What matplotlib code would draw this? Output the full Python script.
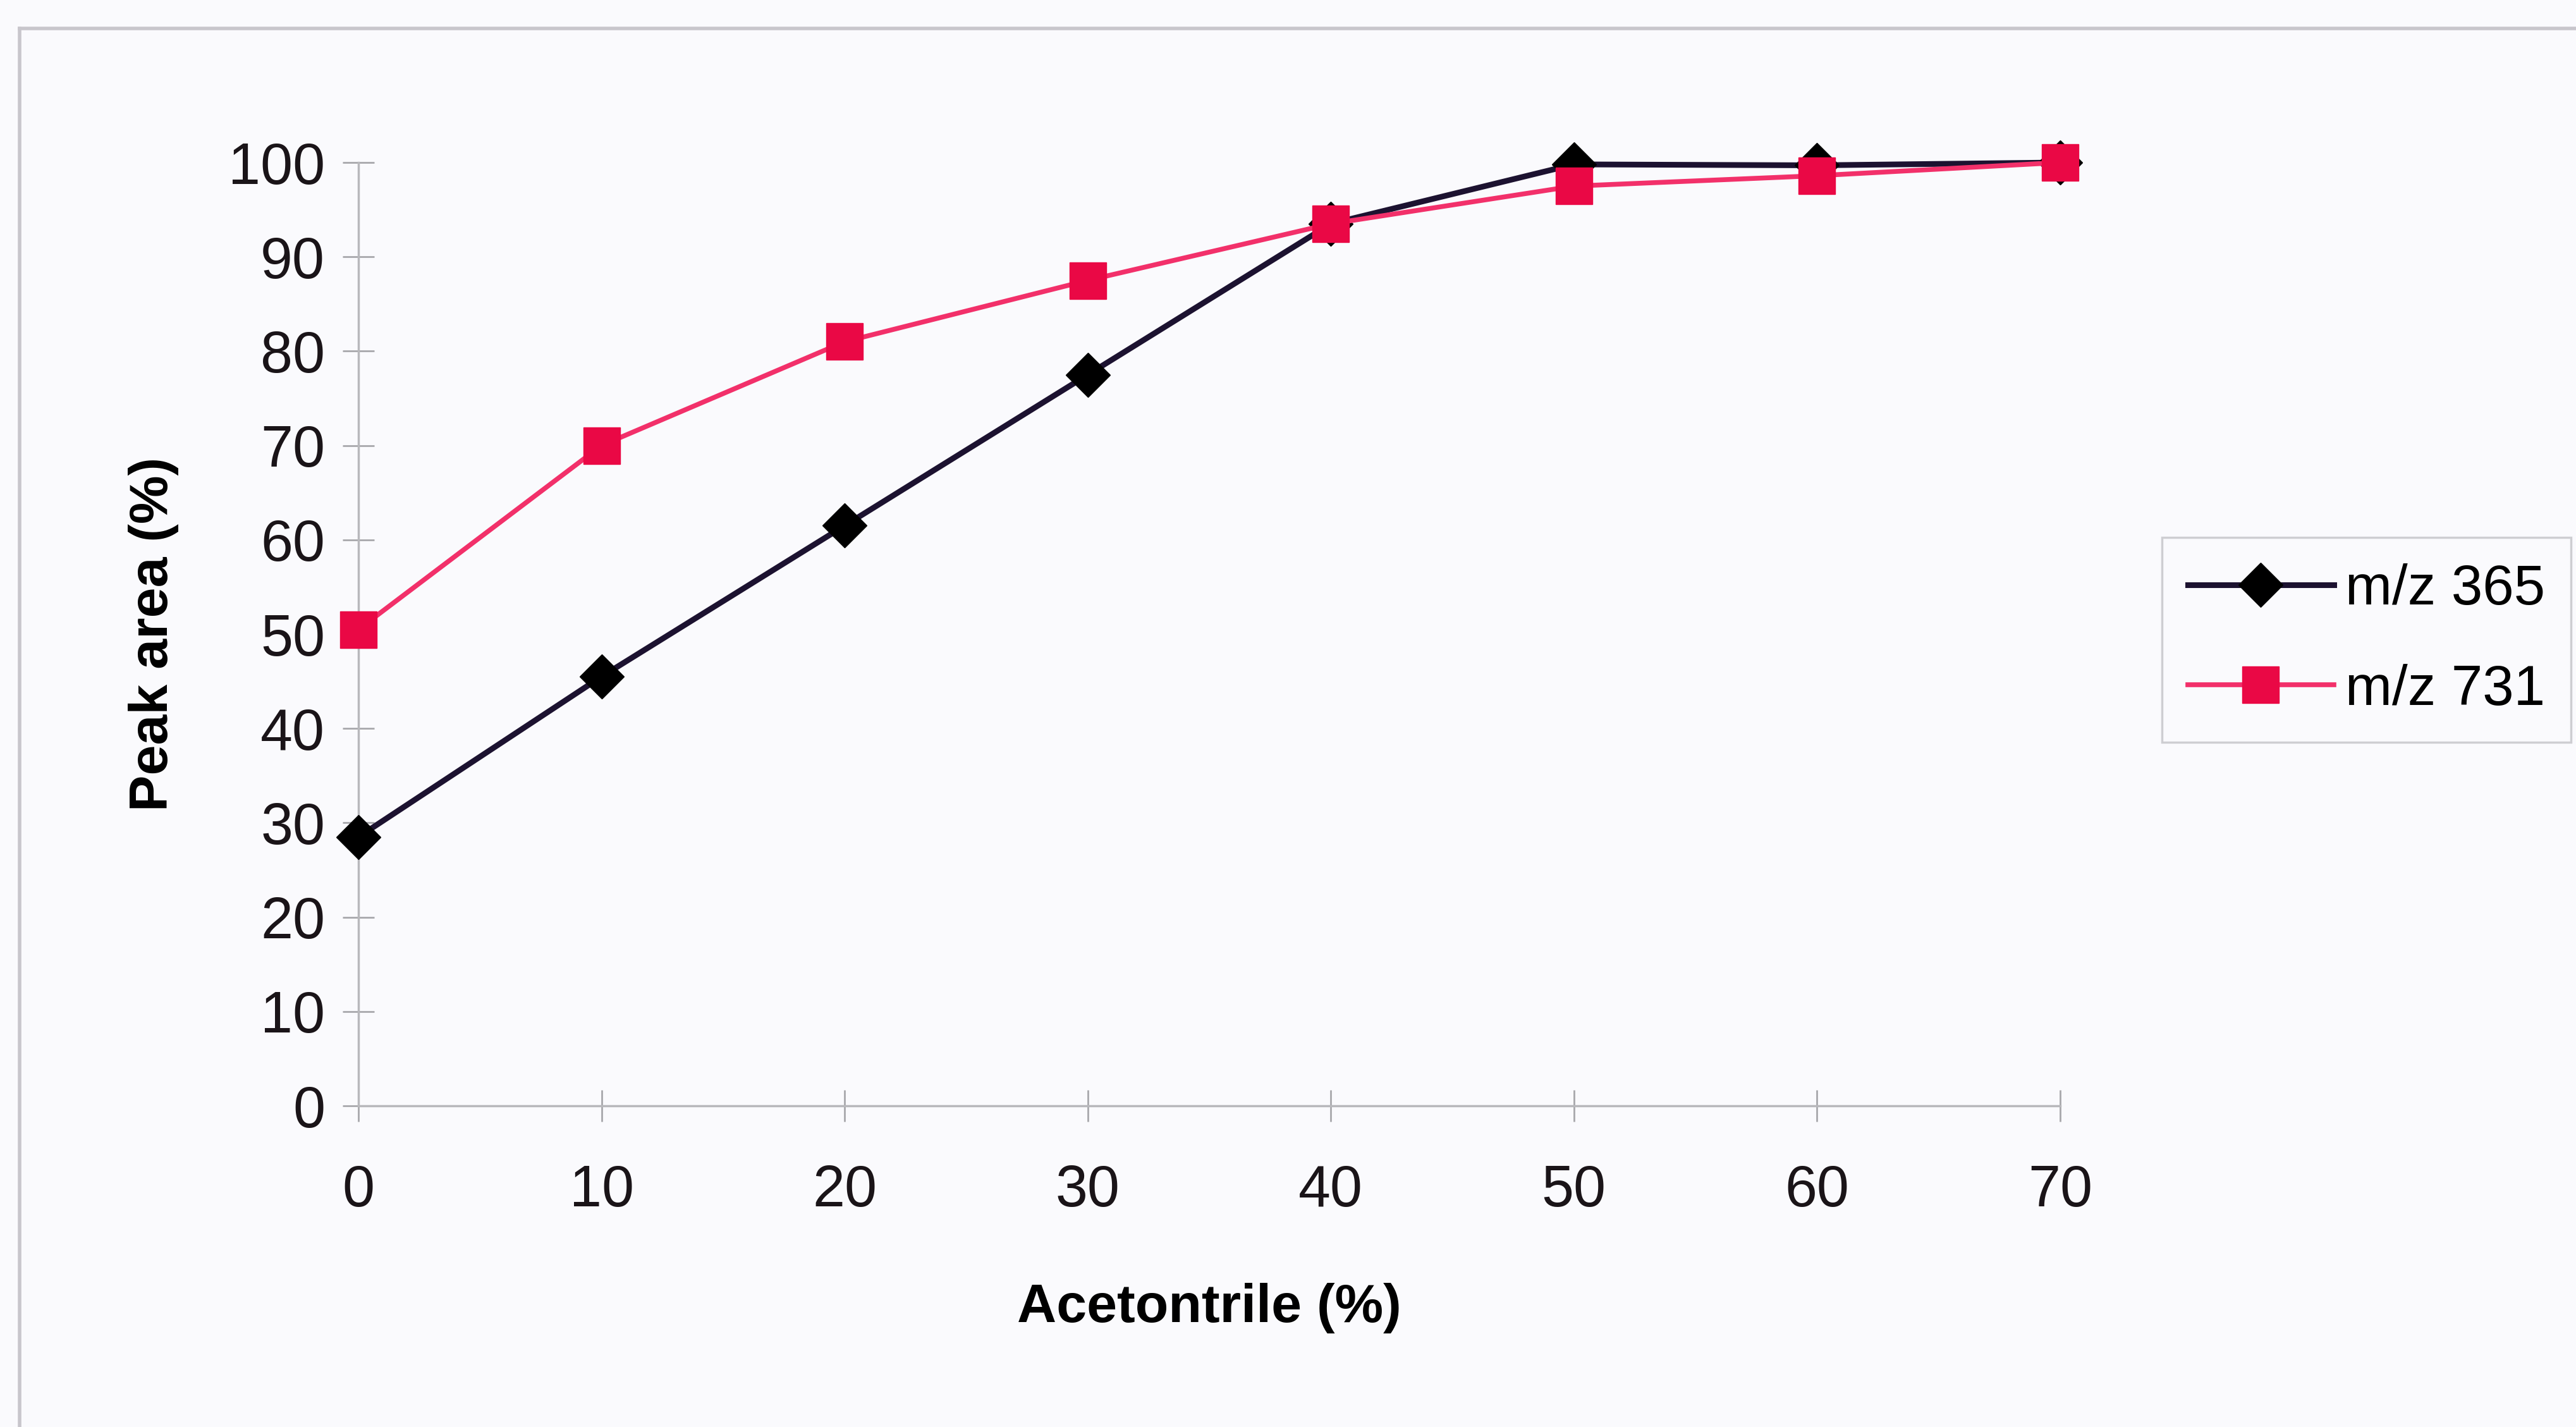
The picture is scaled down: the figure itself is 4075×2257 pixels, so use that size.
import matplotlib
matplotlib.use("Agg")
import matplotlib.pyplot as plt
from matplotlib.lines import Line2D

acetonitrile = [0, 10, 20, 30, 40, 50, 60, 70]
mz365 = [28.5, 45.5, 61.5, 77.5, 93.5, 99.8, 99.7, 100]
mz731 = [50.5, 70, 81, 87.5, 93.5, 97.5, 98.6, 100]
labels = ["m/z 365", "m/z 731"]
xticks = [0, 10, 20, 30, 40, 50, 60, 70]
yticks = [0, 10, 20, 30, 40, 50, 60, 70, 80, 90, 100]

bg = "#fafafd"
dark = "#1c1230"
pink_line = "#f2306a"
pink_mark = "#ea0845"

plt.rcParams["font.family"] = ["Liberation Sans", "DejaVu Sans"]

fig = plt.figure(figsize=(40.75, 22.57), dpi=100, facecolor=bg)
ax = fig.add_axes([567 / 4075, 1 - 1749 / 2257, (3259 - 567) / 4075, (1749 - 257) / 2257])
ax.set_facecolor(bg)

ax.plot(acetonitrile, mz365, color=dark, lw=6.5, marker="D", ms=36,
        mfc="black", mec="black", clip_on=False, zorder=3, label=labels[0])
ax.plot(acetonitrile, mz731, color=pink_line, lw=5.5, marker="s", ms=42,
        mfc=pink_mark, mec=pink_mark, clip_on=False, zorder=4, label=labels[1])

ax.set_xlim(0, 70)
ax.set_ylim(0, 100)
ax.set_xticks(xticks)
ax.set_yticks(yticks)
for s in ["top", "right"]:
    ax.spines[s].set_visible(False)
for s in ["left", "bottom"]:
    ax.spines[s].set_color("#b8b8bc")
    ax.spines[s].set_linewidth(2.5)
ax.tick_params(direction="inout", length=36, width=2, color="#a8a8ac",
               labelsize=66, labelcolor="#1a1418")
ax.tick_params(axis="x", pad=48)
ax.tick_params(axis="y", pad=20)

ax.set_xlabel("Acetontrile (%)", fontsize=62, fontweight="bold", labelpad=74)
ax.set_ylabel("Peak area (%)", fontsize=62, fontweight="bold", labelpad=56)

leg = fig.legend(loc="upper left", bbox_to_anchor=(3420 / 4075, 1 - 850 / 2257),
                 borderaxespad=0, fontsize=64, frameon=True, fancybox=False,
                 handlelength=2.6, borderpad=0.46, labelspacing=0.84,
                 handletextpad=0.2)
leg.get_frame().set_edgecolor("#c4c4c8")
leg.get_frame().set_linewidth(2.5)
leg.get_frame().set_facecolor(bg)

# outer chart border (top and left visible only)
fig.add_artist(Line2D([31 / 4075, 1.0], [1 - 45 / 2257, 1 - 45 / 2257],
                      transform=fig.transFigure, color="#c8c6cc", lw=4))
fig.add_artist(Line2D([31 / 4075, 31 / 4075], [0, 1 - 45 / 2257],
                      transform=fig.transFigure, color="#c8c6cc", lw=4))

fig.savefig("out.png", dpi=100, facecolor=bg)
